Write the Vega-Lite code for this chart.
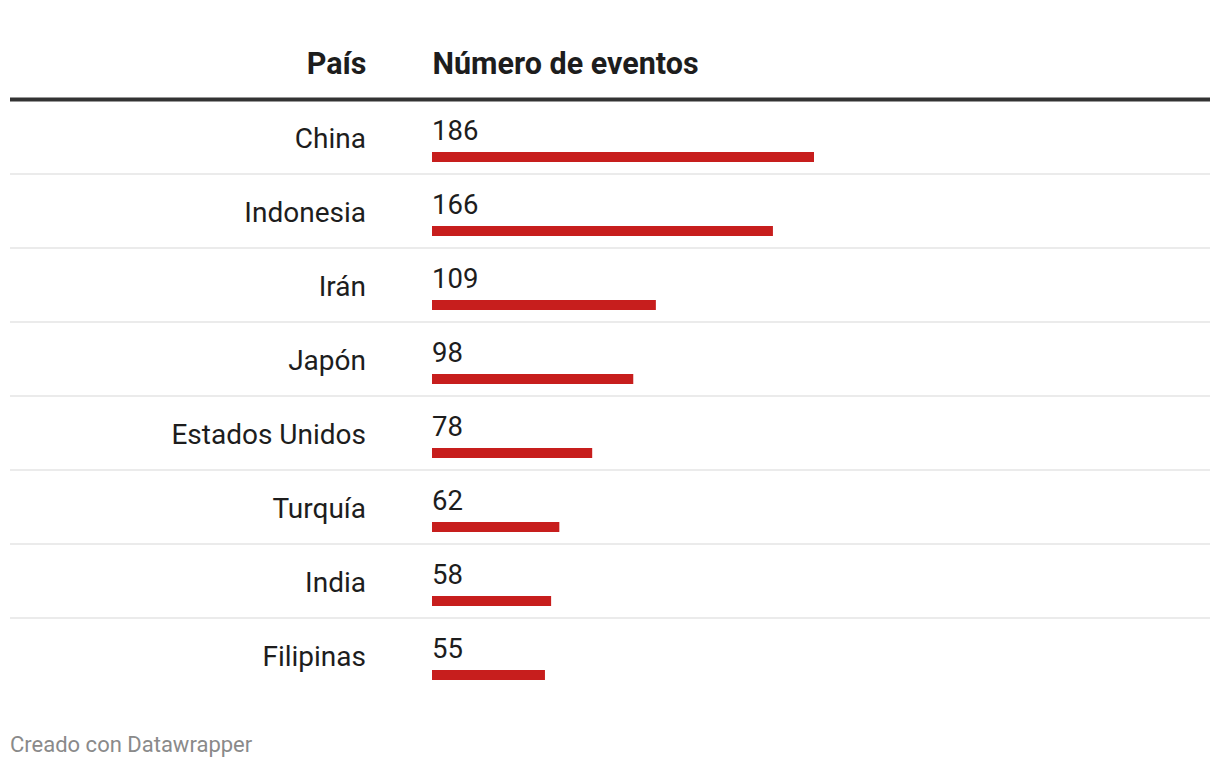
{
  "$schema": "https://vega.github.io/schema/vega-lite/v6.json",
  "width": 1200,
  "height": 592,
  "autosize": {"type": "none"},
  "padding": {"left": 10, "right": 10, "top": 100, "bottom": 76},
  "background": "white",
  "config": {"view": {"stroke": null}, "font": "Roboto"},
  "title": {
    "text": "Creado con Datawrapper",
    "orient": "bottom",
    "anchor": "start",
    "frame": "group",
    "fontSize": 22,
    "fontWeight": "normal",
    "color": "#8a8a8a",
    "font": "Roboto",
    "baseline": "alphabetic",
    "offset": 60
  },
  "data": {
    "values": [
      {"pais": "China", "eventos": 186},
      {"pais": "Indonesia", "eventos": 166},
      {"pais": "Irán", "eventos": 109},
      {"pais": "Japón", "eventos": 98},
      {"pais": "Estados Unidos", "eventos": 78},
      {"pais": "Turquía", "eventos": 62},
      {"pais": "India", "eventos": 58},
      {"pais": "Filipinas", "eventos": 55}
    ]
  },
  "layer": [
    {
      "transform": [{"filter": "datum.pais != 'Filipinas'"}],
      "mark": {"type": "rule", "stroke": "#ebebeb", "strokeWidth": 2},
      "encoding": {
        "y": {"field": "pais", "type": "nominal", "sort": null, "bandPosition": 1,
          "scale": {"paddingInner": 0, "paddingOuter": 0},
          "axis": {"title": "País", "labels": false, "ticks": false, "domain": false, "grid": false,
            "titleAngle": 0, "titleAlign": "right", "titleBaseline": "alphabetic", "titleX": 356, "titleY": -27,
            "titleFont": "Roboto", "titleFontSize": 30.5, "titleFontWeight": "bold", "titleColor": "#1d1d1d"}}
      }
    },
    {
      "transform": [{"filter": "datum.pais == 'China'"}],
      "mark": {"type": "rule", "stroke": "#333333", "strokeWidth": 4, "yOffset": -0.5},
      "encoding": {
        "y": {"field": "pais", "type": "nominal", "sort": null, "bandPosition": 0}
      }
    },
    {
      "mark": {"type": "bar", "color": "#c71e1d", "height": 10, "yOffset": 20},
      "encoding": {
        "y": {"field": "pais", "type": "nominal", "sort": null},
        "x": {"field": "eventos", "type": "quantitative",
          "scale": {"domain": [0, 186], "range": [422, 804], "nice": false, "zero": true},
          "axis": {"orient": "top", "title": "Número de eventos", "labels": false, "ticks": false, "domain": false, "grid": false,
            "titleAnchor": "start", "titleAlign": "left", "titleBaseline": "alphabetic", "titleX": 422, "titleY": -27,
            "titleFont": "Roboto", "titleFontSize": 30.5, "titleFontWeight": "bold", "titleColor": "#1d1d1d"}}
      }
    },
    {
      "mark": {"type": "text", "align": "left", "baseline": "alphabetic", "dy": 2.5, "fontSize": 27.5, "font": "Roboto", "color": "#1d1d1d"},
      "encoding": {
        "y": {"field": "pais", "type": "nominal", "sort": null},
        "x": {"datum": 0, "type": "quantitative"},
        "text": {"field": "eventos", "type": "quantitative"}
      }
    },
    {
      "mark": {"type": "text", "align": "right", "baseline": "alphabetic", "dx": -66, "dy": 10.5, "fontSize": 28, "font": "Roboto", "color": "#1d1d1d"},
      "encoding": {
        "y": {"field": "pais", "type": "nominal", "sort": null},
        "x": {"datum": 0, "type": "quantitative"},
        "text": {"field": "pais", "type": "nominal"}
      }
    }
  ]
}
